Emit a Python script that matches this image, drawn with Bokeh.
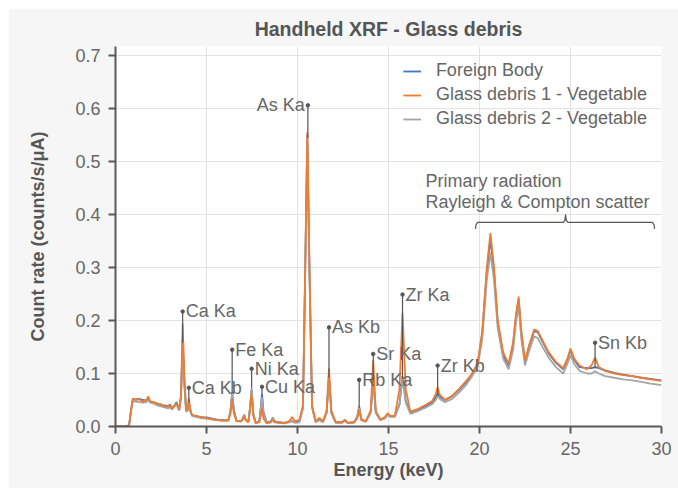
from bokeh.plotting import figure
from bokeh.models import (Range1d, FixedTicker, NumeralTickFormatter, Legend, LegendItem,
                          ColumnDataSource, Title)
from bokeh.core.properties import value
from bokeh.embed import file_html
from bokeh.resources import INLINE

# ---------------- data ----------------
energy = [0, 0.6, 0.75, 0.85, 0.95, 1.1, 1.3, 1.5, 1.7, 1.8, 1.9, 2.1, 2.3, 2.5, 2.7, 2.9, 3.0, 3.1,
          3.25, 3.35, 3.5, 3.6, 3.69, 3.78, 3.88, 3.96, 4.03, 4.1, 4.2, 4.4, 4.7, 5.0, 5.3, 5.6, 5.9,
          6.2, 6.32, 6.41, 6.5, 6.65, 6.9, 7.0, 7.07, 7.15, 7.3, 7.39, 7.48, 7.57, 7.7, 7.9, 7.98,
          8.05, 8.13, 8.3, 8.55, 8.64, 8.73, 9.0, 9.3, 9.55, 9.7, 9.85, 10.1, 10.3, 10.42, 10.54,
          10.66, 10.8, 11.0, 11.2, 11.4, 11.6, 11.73, 11.86, 12.1, 12.45, 12.6, 12.75, 13.1, 13.28,
          13.39, 13.5, 13.75, 14.02, 14.16, 14.3, 14.55, 14.8, 14.95, 15.1, 15.35, 15.6, 15.77,
          15.95, 16.2, 16.6, 17.0, 17.4, 17.6, 17.7, 17.82, 18.1, 18.5, 18.9, 19.3, 19.6, 19.9,
          20.15, 20.4, 20.6, 20.8, 21.0, 21.3, 21.6, 21.85, 22.0, 22.15, 22.3, 22.5, 22.75, 23.0,
          23.2, 23.5, 23.8, 24.2, 24.6, 24.85, 25.0, 25.2, 25.5, 25.9, 26.15, 26.35, 26.55, 26.9,
          27.4, 27.9, 28.4, 28.9, 29.4, 30.0]

glass1 = [0, 0, 0.003, 0.03, 0.052, 0.05, 0.051, 0.047, 0.05, 0.057, 0.048, 0.046, 0.043, 0.042,
          0.038, 0.037, 0.04, 0.034, 0.04, 0.043, 0.032, 0.06, 0.194, 0.1, 0.03, 0.032, 0.053, 0.035,
          0.022, 0.02, 0.018, 0.016, 0.014, 0.012, 0.011, 0.011, 0.025, 0.052, 0.025, 0.01, 0.009,
          0.014, 0.02, 0.012, 0.008, 0.03, 0.06, 0.02, 0.006, 0.008, 0.02, 0.035, 0.015, 0.006,
          0.008, 0.014, 0.008, 0.007, 0.007, 0.01, 0.018, 0.01, 0.012, 0.04, 0.3, 0.555, 0.3, 0.04,
          0.01, 0.016, 0.01, 0.03, 0.11, 0.03, 0.008, 0.008, 0.013, 0.007, 0.008, 0.015, 0.032,
          0.012, 0.009, 0.03, 0.125, 0.03, 0.013, 0.018, 0.025, 0.02, 0.02, 0.07, 0.213, 0.07,
          0.028, 0.033, 0.04, 0.048, 0.062, 0.074, 0.06, 0.05, 0.058, 0.072, 0.087, 0.1, 0.12,
          0.18, 0.3, 0.365, 0.3, 0.2, 0.14, 0.118, 0.16, 0.21, 0.245, 0.18, 0.125, 0.155, 0.183,
          0.18, 0.16, 0.14, 0.122, 0.11, 0.13, 0.147, 0.128, 0.115, 0.108, 0.115, 0.13, 0.112,
          0.105, 0.1, 0.097, 0.095, 0.092, 0.089, 0.086]

glass2 = [0, 0, 0.003, 0.028, 0.048, 0.047, 0.046, 0.045, 0.046, 0.05, 0.045, 0.043, 0.04, 0.038,
          0.036, 0.034, 0.037, 0.032, 0.038, 0.042, 0.03, 0.055, 0.158, 0.08, 0.028, 0.03, 0.045,
          0.03, 0.02, 0.018, 0.016, 0.015, 0.013, 0.012, 0.011, 0.011, 0.03, 0.063, 0.03, 0.01,
          0.01, 0.016, 0.022, 0.013, 0.009, 0.035, 0.072, 0.025, 0.007, 0.009, 0.03, 0.055, 0.025,
          0.007, 0.009, 0.016, 0.009, 0.007, 0.006, 0.008, 0.01, 0.007, 0.008, 0.035, 0.28, 0.54,
          0.28, 0.035, 0.008, 0.012, 0.008, 0.025, 0.092, 0.025, 0.007, 0.007, 0.011, 0.007, 0.007,
          0.017, 0.036, 0.014, 0.009, 0.025, 0.085, 0.025, 0.012, 0.015, 0.022, 0.018, 0.018, 0.04,
          0.09, 0.045, 0.024, 0.029, 0.035, 0.042, 0.05, 0.058, 0.052, 0.046, 0.052, 0.065, 0.08,
          0.095, 0.112, 0.165, 0.275, 0.328, 0.275, 0.185, 0.128, 0.108, 0.145, 0.195, 0.228, 0.165,
          0.115, 0.145, 0.17, 0.167, 0.148, 0.13, 0.112, 0.1, 0.12, 0.135, 0.118, 0.105, 0.1, 0.1,
          0.104, 0.1, 0.095, 0.092, 0.089, 0.087, 0.084, 0.081, 0.078]

foreign = [0, 0, 0.003, 0.03, 0.052, 0.051, 0.052, 0.05, 0.049, 0.052, 0.047, 0.045, 0.043, 0.04,
           0.04, 0.038, 0.042, 0.034, 0.04, 0.046, 0.032, 0.056, 0.165, 0.085, 0.03, 0.03, 0.046,
           0.03, 0.021, 0.02, 0.017, 0.017, 0.015, 0.013, 0.012, 0.012, 0.03, 0.065, 0.032, 0.011,
           0.01, 0.016, 0.022, 0.013, 0.009, 0.035, 0.07, 0.025, 0.007, 0.01, 0.035, 0.062, 0.028,
           0.008, 0.01, 0.017, 0.01, 0.008, 0.007, 0.009, 0.01, 0.008, 0.009, 0.035, 0.285, 0.55,
           0.29, 0.038, 0.009, 0.013, 0.009, 0.026, 0.095, 0.026, 0.008, 0.008, 0.012, 0.007, 0.008,
           0.018, 0.038, 0.014, 0.01, 0.027, 0.09, 0.027, 0.013, 0.016, 0.023, 0.019, 0.019, 0.042,
           0.095, 0.048, 0.026, 0.031, 0.038, 0.046, 0.055, 0.062, 0.056, 0.05, 0.057, 0.07, 0.085,
           0.1, 0.118, 0.175, 0.29, 0.355, 0.29, 0.195, 0.135, 0.115, 0.155, 0.205, 0.24, 0.175,
           0.122, 0.155, 0.18, 0.178, 0.158, 0.138, 0.12, 0.108, 0.128, 0.145, 0.126, 0.112, 0.11,
           0.11, 0.112, 0.11, 0.106, 0.101, 0.098, 0.095, 0.092, 0.09, 0.087]

series_names = ["Foreign Body", "Glass debris 1 - Vegetable", "Glass debris 2 - Vegetable"]
series_colors = ["#4472C4", "#ED7D31", "#A5A5A5"]

peak_names = ["Ca Ka", "Ca Kb", "Fe Ka", "Ni Ka", "Cu Ka", "As Ka", "As Kb", "Rb Ka", "Sr Ka",
              "Zr Ka", "Zr Kb", "Sn Kb"]
peak_energy = [3.69, 4.03, 6.41, 7.48, 8.05, 10.57, 11.73, 13.39, 14.16, 15.77, 17.7, 26.35]
peak_label_y = [0.217, 0.073, 0.145, 0.109, 0.075, 0.606, 0.187, 0.088, 0.137, 0.249, 0.115, 0.158]
peak_line_bottom = [0.158, 0.045, 0.063, 0.072, 0.062, 0.545, 0.092, 0.036, 0.085, 0.09, 0.058, 0.11]
peak_label_side = ["right", "right", "right", "right", "right", "left", "right", "right", "right",
                   "right", "right", "right"]

bracket_energy = [19.78, 19.81, 19.9, 24.6, 24.69, 24.73, 24.77, 24.86, 29.5, 29.59, 29.62]
bracket_level = [0.373, 0.381, 0.385, 0.385, 0.389, 0.4, 0.389, 0.385, 0.385, 0.381, 0.373]
bracket_text = ["Primary radiation", "Rayleigh & Compton scatter"]
bracket_text_energy = [17.03, 17.03]
bracket_text_level = [0.464, 0.423]

x_ticks = [0, 5, 10, 15, 20, 25, 30]
y_ticks = [0.0, 0.1, 0.2, 0.3, 0.4, 0.5, 0.6, 0.7]

# ---------------- figure ----------------
FONT = "Liberation Sans"
TXT = "#666666"
DARK = "#555555"

p = figure(width=670, height=480, output_backend="svg", toolbar_location=None,
           x_range=Range1d(0, 30), y_range=Range1d(0, 0.717),
           min_border_left=107, min_border_right=17, min_border_top=38, min_border_bottom=62)
p.margin = (8, 0, 0, 8)
p.border_fill_color = "#f6f6f6"
p.background_fill_color = "#ffffff"
p.outline_line_color = None

p.title = Title(text="Handheld XRF - Glass debris", align="center", text_font=FONT,
                text_font_size="19.5px", text_font_style="bold", text_color=DARK, standoff=14)

for ax, ticks in ((p.xaxis[0], x_ticks), (p.yaxis[0], y_ticks)):
    ax.ticker = FixedTicker(ticks=ticks)
    ax.axis_line_color = "#595959"
    ax.axis_line_width = 2
    ax.major_tick_line_color = "#595959"
    ax.major_tick_line_width = 2
    ax.major_tick_in = 0
    ax.major_tick_out = 7
    ax.minor_tick_line_color = None
    ax.major_label_text_font = FONT
    ax.major_label_text_font_size = "18px"
    ax.major_label_text_color = TXT
    ax.major_label_standoff = 8
    ax.axis_label_text_font = FONT
    ax.axis_label_text_font_size = "18px"
    ax.axis_label_text_font_style = "bold"
    ax.axis_label_text_color = DARK
p.yaxis[0].formatter = NumeralTickFormatter(format="0.0")
p.xaxis[0].axis_label = "Energy (keV)"
p.yaxis[0].axis_label = "Count rate (counts/s/μA)"
p.xaxis[0].axis_label_standoff = 2
p.yaxis[0].axis_label_standoff = 24

p.xgrid.ticker = FixedTicker(ticks=x_ticks)
p.ygrid.ticker = FixedTicker(ticks=y_ticks)
p.grid.grid_line_color = "#e2e2e2"
p.grid.grid_line_width = 1

# spectra: blue, gray, orange (orange on top)
r_blue = p.line(energy, foreign, line_color=series_colors[0], line_width=1.8)
r_gray = p.line(energy, glass2, line_color=series_colors[2], line_width=1.8)
r_orange = p.line(energy, glass1, line_color=series_colors[1], line_width=1.8)

# peak annotations
lab = ColumnDataSource(dict(
    x=peak_energy, y=peak_label_y, y0=peak_line_bottom, text=peak_names,
    align=["left" if s == "right" else "right" for s in peak_label_side],
    off=[3 if s == "right" else -3 for s in peak_label_side]))
p.segment(x0="x", y0="y0", x1="x", y1="y", source=lab, line_color=DARK, line_width=1.2)
p.scatter("x", "y", source=lab, size=3.5, color=DARK)
p.text("x", "y", text="text", source=lab, text_align="align", x_offset="off",
       text_baseline="middle", text_font=value(FONT), text_font_size="18px", text_color=TXT)

# bracket for scatter region
p.line(bracket_energy, bracket_level, line_color=DARK, line_width=1.2)
p.text(bracket_text_energy, bracket_text_level, text=bracket_text, text_align="left",
       text_baseline="middle", text_font=value(FONT), text_font_size="18px", text_color=TXT)

legend = Legend(items=[LegendItem(label=series_names[0], renderers=[r_blue]),
                       LegendItem(label=series_names[1], renderers=[r_orange]),
                       LegendItem(label=series_names[2], renderers=[r_gray])],
                location="top_right", border_line_color=None, background_fill_alpha=0,
                label_text_font=FONT, label_text_font_size="18px", label_text_color=TXT,
                glyph_width=18, glyph_height=20, label_height=20, spacing=3,
                label_standoff=15, margin=14, padding=10)
p.add_layout(legend)

open("out.html", "w").write(file_html(p, INLINE))
